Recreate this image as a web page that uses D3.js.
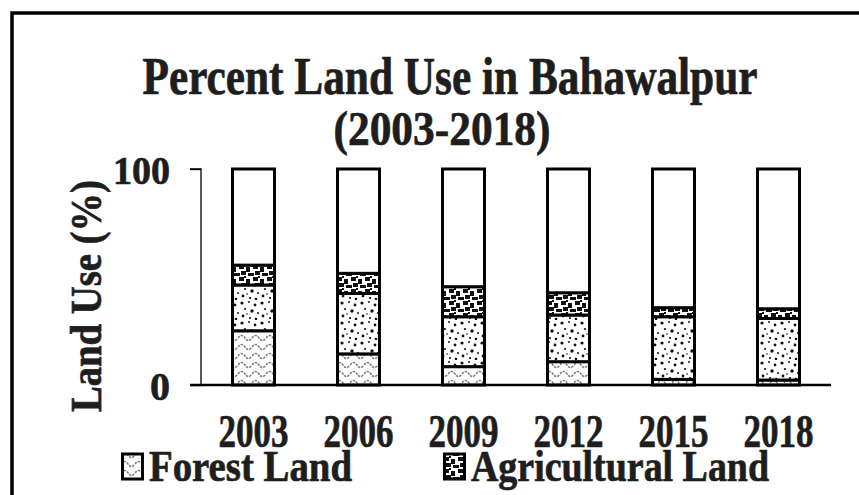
<!DOCTYPE html>
<html><head><meta charset="utf-8">
<script src="https://cdn.jsdelivr.net/npm/d3@7"></script>
<style>html,body{margin:0;padding:0;background:#fff;}svg{display:block;}</style>
</head><body>
<svg id="chart" width="859" height="495"></svg>
<script>
const years = ["2003","2006","2009","2012","2015","2018"];
const forestLand = [25.1, 14.4, 8.5, 10.8, 2.6, 2.3];
const agriculturalLand = [21.2, 28.0, 23.1, 21.6, 29.0, 28.5];
const otherLand = [9.2, 9.3, 13.9, 10.3, 4.2, 4.5];
const yTicks = [0, 100];
const seriesNames = ["Forest Land", "Agricultural Land", "Other", "Remaining"];
const legendNames = ["Forest Land", "Agricultural Land"];

const rows = years.map((y, i) => ({
  year: y,
  "Forest Land": forestLand[i],
  "Agricultural Land": agriculturalLand[i],
  "Other": otherLand[i],
  "Remaining": 100 - forestLand[i] - agriculturalLand[i] - otherLand[i]
}));

const svg = d3.select("#chart");
const font = "'Liberation Serif', 'Times New Roman', serif";
const ink = "#1e1e1e";

// patterns
const defs = svg.append("defs");
const pf = defs.append("pattern").attr("id","pForest").attr("patternUnits","userSpaceOnUse")
  .attr("width",14).attr("height",9);
pf.append("rect").attr("width",14).attr("height",9).attr("fill","#fff");
pf.append("path").attr("d","M0,5 Q3.5,0 7,5 T14,5").attr("fill","none")
  .attr("stroke","#7a7a7a").attr("stroke-width",1.5).attr("stroke-dasharray","2.5,1");

const pa = defs.append("pattern").attr("id","pAgri").attr("patternUnits","userSpaceOnUse")
  .attr("width",20).attr("height",20);
pa.append("rect").attr("width",20).attr("height",20).attr("fill","#fff");
[[2,3,1.6],[9,2,1.0],[15,5,1.4],[5,9,1.1],[12,11,1.7],[18,13,1.0],[3,16,1.4],[10,18,1.1],[16,19,1.3],[7,14,0.8]]
  .forEach(d => pa.append("circle").attr("cx",d[0]).attr("cy",d[1]).attr("r",d[2]).attr("fill","#111"));

const po = defs.append("pattern").attr("id","pOther").attr("patternUnits","userSpaceOnUse")
  .attr("width",14).attr("height",12);
po.append("rect").attr("width",14).attr("height",12).attr("fill","#fff");
[[1,1,5,4],[8,3,4,5],[3,7,5,4],[10,9,4,3],[0,9,2,3],[6,0,2,2]]
  .forEach(d => po.append("rect").attr("x",d[0]).attr("y",d[1]).attr("width",d[2]).attr("height",d[3]).attr("fill","#111"));

const fills = {"Forest Land":"url(#pForest)","Agricultural Land":"url(#pAgri)","Other":"url(#pOther)","Remaining":"#fff"};

// frame
svg.append("rect").attr("x",12).attr("y",13).attr("width",900).attr("height",520)
  .attr("fill","none").attr("stroke","#000").attr("stroke-width",3.5);

const x = d3.scaleBand().domain(years).range([201, 831]).paddingInner(0.6).paddingOuter(0.3);
const y = d3.scaleLinear().domain([0, 100]).range([385, 169]);

const stack = d3.stack().keys(seriesNames)(rows);

// bars
svg.append("g").selectAll("g").data(stack).join("g")
  .attr("fill", d => fills[d.key])
  .selectAll("rect").data(d => d).join("rect")
  .attr("x", d => x(d.data.year))
  .attr("y", d => y(d[1]))
  .attr("width", x.bandwidth())
  .attr("height", d => y(d[0]) - y(d[1]))
  .attr("stroke","#000").attr("stroke-width",3);

function heavy(sel){ return sel.attr("stroke",ink).attr("stroke-width",0.7).attr("paint-order","stroke"); }

// y axis
const yAxis = svg.append("g").attr("transform","translate(201,0)")
  .call(d3.axisLeft(y).tickValues(yTicks).tickSize(11).tickPadding(20).tickFormat(d3.format("d")));
yAxis.select(".domain").attr("stroke","#000").attr("stroke-width",1.3).attr("d","M-11,169H0V385H-11");
yAxis.selectAll(".tick line").attr("stroke","#000").attr("stroke-width",1.3);
heavy(yAxis.selectAll(".tick text").attr("font-family",font).attr("font-weight","bold")
  .attr("font-size",41).attr("fill",ink).attr("dy","0.36em")
  .attr("textLength", d => d === 100 ? 57 : 20).attr("lengthAdjust","spacingAndGlyphs"));

// x axis
const xAxis = svg.append("g").attr("transform","translate(0,385)")
  .call(d3.axisBottom(x).tickSize(0).tickPadding(0));
xAxis.select(".domain").attr("stroke","#000").attr("stroke-width",2.5).attr("d","M190,0H831");
heavy(xAxis.selectAll(".tick text").attr("font-family",font).attr("font-weight","bold")
  .attr("font-size",46).attr("fill",ink).attr("dy",0).attr("y",62)
  .attr("textLength",70).attr("lengthAdjust","spacingAndGlyphs"));

// titles
const tt = svg.append("g").attr("font-family",font).attr("font-weight","bold").attr("fill",ink).attr("text-anchor","middle");
heavy(tt.append("text").attr("x",450).attr("y",94).attr("font-size",52)
  .attr("textLength",615).attr("lengthAdjust","spacingAndGlyphs").text("Percent Land Use in Bahawalpur"));
heavy(tt.append("text").attr("x",442).attr("y",145).attr("font-size",49)
  .attr("textLength",217).attr("lengthAdjust","spacingAndGlyphs").text("(2003-2018)"));
heavy(tt.append("text").attr("transform","translate(101,296) rotate(-90)").attr("font-size",44)
  .attr("textLength",232).attr("lengthAdjust","spacingAndGlyphs").text("Land Use (%)"));

// legend
const legX = [121, 443];
const legTextW = [203, 298];
const legFill = ["url(#pForest)", "url(#pOther)"];
const lg = svg.append("g").selectAll("g").data(legendNames).join("g")
  .attr("transform", (d,i) => `translate(${legX[i]},0)`);
lg.append("rect").attr("x",1.5).attr("y",454).attr("width",20).attr("height",25)
  .attr("fill",(d,i)=>legFill[i]).attr("stroke","#000").attr("stroke-width",3);
heavy(lg.append("text").attr("x",28).attr("y",481).attr("font-family",font).attr("font-weight","bold")
  .attr("font-size",45).attr("fill",ink)
  .attr("textLength",(d,i)=>legTextW[i]).attr("lengthAdjust","spacingAndGlyphs").text(d=>d));
</script>
</body></html>
